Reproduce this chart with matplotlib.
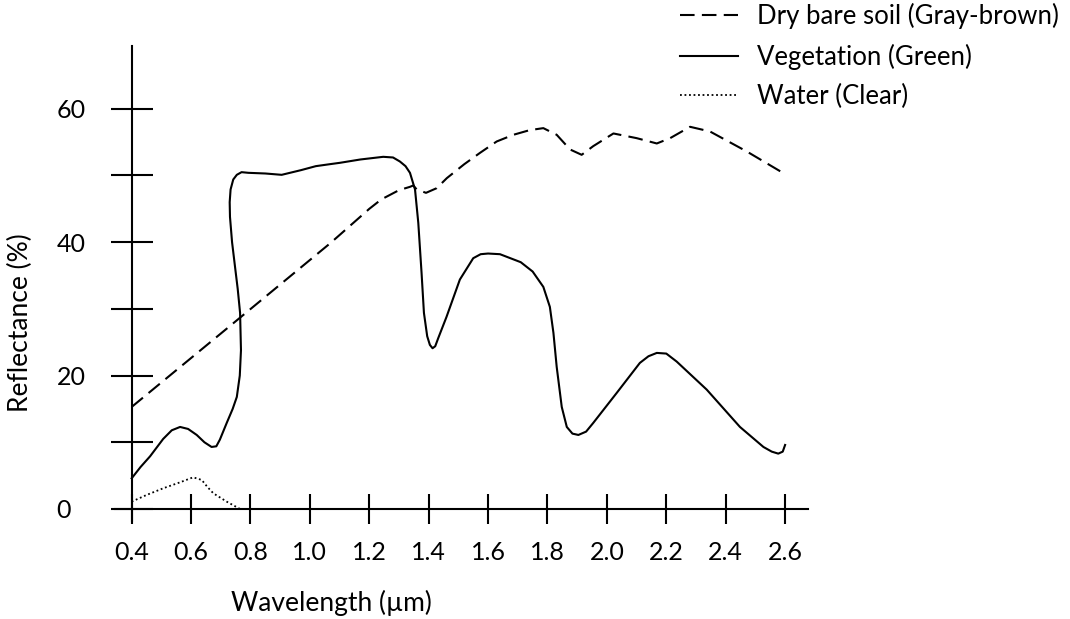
import matplotlib
matplotlib.use('Agg')
import matplotlib.pyplot as plt

# Values
soil_x = [0.40, 0.70, 1.07, 1.20, 1.24, 1.30, 1.337, 1.348, 1.36, 1.391, 1.427, 1.461,
          1.52, 1.573, 1.629, 1.685, 1.74, 1.786, 1.831, 1.876, 1.915, 1.954, 2.022,
          2.10, 2.168, 2.213, 2.28, 2.347, 2.471, 2.60]
soil_y = [15.3, 26.3, 39.9, 45.0, 46.4, 47.8, 48.3, 48.5, 47.9, 47.4, 48.1, 49.6,
          51.7, 53.4, 55.1, 56.1, 56.8, 57.1, 56.1, 53.9, 53.1, 54.4, 56.3,
          55.6, 54.8, 55.6, 57.3, 56.6, 53.6, 50.2]

veg_x = [0.40, 0.43, 0.462, 0.506, 0.535, 0.563, 0.59, 0.619, 0.645, 0.669, 0.685, 0.697,
         0.72, 0.74, 0.754, 0.764, 0.768, 0.765, 0.757, 0.748, 0.738, 0.731, 0.730, 0.733,
         0.742, 0.754, 0.77, 0.793, 0.85, 0.905, 0.97, 1.02, 1.068, 1.101, 1.17, 1.247,
         1.28, 1.303, 1.322, 1.337, 1.354, 1.365, 1.376, 1.384, 1.395, 1.404, 1.413,
         1.422, 1.432, 1.46, 1.505, 1.55, 1.575, 1.60, 1.64, 1.71, 1.75, 1.786, 1.808,
         1.82, 1.831, 1.848, 1.865, 1.884, 1.904, 1.93, 1.954, 2.033, 2.111, 2.14, 2.168,
         2.20, 2.235, 2.336, 2.448, 2.527, 2.555, 2.577, 2.592, 2.60]
veg_y = [4.6, 6.3, 7.9, 10.5, 11.8, 12.3, 12.0, 11.1, 10.0, 9.3, 9.4, 10.4,
         12.9, 15.0, 16.8, 20.0, 23.8, 29.4, 33.0, 36.3, 40.0, 43.8, 46.0, 47.9,
         49.4, 50.1, 50.5, 50.4, 50.3, 50.1, 50.8, 51.4, 51.7, 51.9, 52.4, 52.8,
         52.7, 52.1, 51.4, 50.4, 47.9, 42.9, 35.4, 29.4, 25.9, 24.6, 24.1,
         24.4, 25.6, 28.8, 34.4, 37.6, 38.2, 38.3, 38.2, 37.0, 35.6, 33.3, 30.3,
         26.4, 21.3, 15.3, 12.3, 11.3, 11.1, 11.6, 12.9, 17.4, 21.9, 22.9, 23.4,
         23.3, 22.1, 17.9, 12.3, 9.3, 8.6, 8.3, 8.6, 9.6]

water_x = [0.40, 0.45, 0.506, 0.563, 0.607, 0.636, 0.655, 0.675, 0.72, 0.765]
water_y = [1.1, 2.1, 3.1, 4.0, 4.75, 4.35, 3.3, 2.35, 1.1, 0.0]

xticks = [0.4, 0.6, 0.8, 1.0, 1.2, 1.4, 1.6, 1.8, 2.0, 2.2, 2.4, 2.6]
xticklabels = ['0.4', '0.6', '0.8', '1.0', '1.2', '1.4', '1.6', '1.8', '2.0', '2.2', '2.4', '2.6']
yticks_major = [0, 20, 40, 60]
yticks_minor = [10, 30, 50]

plt.rcParams['font.family'] = ['Lato', 'DejaVu Sans']
plt.rcParams['font.size'] = 18

fig = plt.figure(figsize=(10.70, 6.19), dpi=100)
fig.patch.set_facecolor('white')
ax = fig.add_axes([0.0953, 0.1454, 0.6662, 0.7866])
ax.set_xlim(0.3, 2.7)
ax.set_ylim(-3, 70)

ax.plot(soil_x, soil_y, color='black', linewidth=1.5, dashes=(7, 3.5),
        label='Dry bare soil (Gray-brown)')
ax.plot(veg_x, veg_y, color='black', linewidth=1.5, label='Vegetation (Green)')
ax.plot(water_x, water_y, color='black', linewidth=1.3, linestyle=(0, (1, 1.5)),
        label='Water (Clear)')

# Axes drawn as crossing lines
for side in ['top', 'right']:
    ax.spines[side].set_visible(False)
ax.spines['left'].set_position(('data', 0.4))
ax.spines['bottom'].set_position(('data', 0))
ax.spines['left'].set_bounds(-1.8, 69.4)
ax.spines['bottom'].set_bounds(0.344, 2.677)
ax.spines['left'].set_linewidth(1.5)
ax.spines['bottom'].set_linewidth(1.5)

ax.set_xticks(xticks)
ax.set_xticklabels(xticklabels)
ax.set_yticks(yticks_major)
ax.set_yticks(yticks_minor, minor=True)
ax.tick_params(axis='x', direction='inout', length=22, width=1.5, pad=12, labelsize=18)
ax.tick_params(axis='y', which='both', direction='inout', length=30, width=1.5, pad=39,
               labelsize=18)
for lbl in ax.get_yticklabels():
    lbl.set_horizontalalignment('left')

fig.text(432 / 1070, 0.026, 'Wavelength (µm)', ha='right', va='center', fontsize=19)
fig.text(0.0195, 1 - 323 / 619, 'Reflectance (%)', ha='center', va='center',
         rotation=90, fontsize=19)

fig.legend(loc='upper left', bbox_to_anchor=(0.6355, 0.995), frameon=False,
           handlelength=2.25, handletextpad=0.75, labelspacing=0.56, borderpad=0,
           borderaxespad=0, fontsize=18.5)

fig.savefig('out.png', dpi=100, facecolor='white')
